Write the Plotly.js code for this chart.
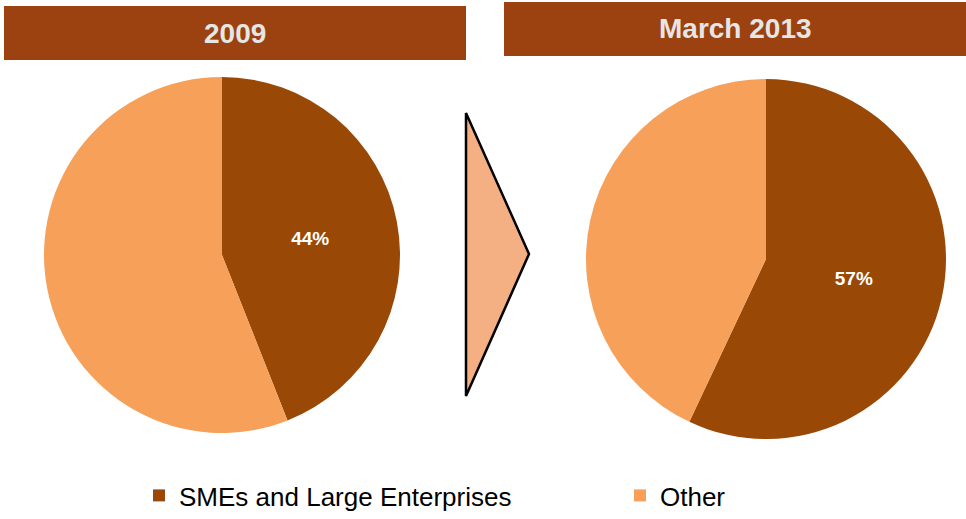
<!DOCTYPE html>
<html>
<head>
<meta charset="utf-8">
<script src="https://cdn.plot.ly/plotly-3.0.1.min.js"></script>
<style>html,body{margin:0;padding:0;background:#fff;}#chart{width:966px;height:519px;}</style>
</head>
<body>
<div id="chart"></div>
<script>
const categories = ["SMEs and Large Enterprises", "Other"];
const periods = ["2009", "March 2013"];
const values2009 = [44, 56];
const values2013 = [57, 43];
const textLabels2009 = ["44%", ""];
const textLabels2013 = ["57%", ""];

const brown = "#9A4806";
const orange = "#F6A05A";
const W = 966, H = 519;
const px = v => v / W;
const py = v => 1 - v / H;

const common = {
  type: "pie",
  labels: categories,
  sort: false,
  direction: "clockwise",
  rotation: 0,
  marker: {colors: [brown, orange], line: {width: 0}},
  textinfo: "text",
  textposition: "inside",
  insidetextorientation: "horizontal",
  textfont: {family: "Liberation Sans, Arial, sans-serif", size: 19, color: "#FFFFFF", weight: "bold"},
  hoverinfo: "label+percent"
};

const traces = [
  Object.assign({}, common, {
    name: periods[0], values: values2009, text: textLabels2009,
    domain: {x: [px(44), px(400)], y: [py(433), py(77)]}
  }),
  Object.assign({}, common, {
    name: periods[1], values: values2013, text: textLabels2013,
    showlegend: false,
    domain: {x: [px(586), px(946)], y: [py(439), py(79)]}
  })
];

const headerFont = {family: "Liberation Sans, Arial, sans-serif", size: 28, color: "#E6E6E6", weight: "bold"};

const layout = {
  width: W, height: H,
  margin: {l: 0, r: 0, t: 0, b: 0, autoexpand: false},
  paper_bgcolor: "#FFFFFF",
  showlegend: true,
  legend: {
    orientation: "h",
    x: px(139), xanchor: "left",
    y: 0, yanchor: "bottom",
    font: {family: "Liberation Sans, Arial, sans-serif", size: 26, color: "#000000"},
    entrywidthmode: "pixels",
    entrywidth: 436,
    itemwidth: 30,
    traceorder: "normal",
    bgcolor: "rgba(0,0,0,0)"
  },
  shapes: [
    {type: "rect", xref: "paper", yref: "paper", x0: px(4), x1: px(466), y0: py(60), y1: py(6),
     fillcolor: "#9C4110", line: {width: 0}, layer: "below"},
    {type: "rect", xref: "paper", yref: "paper", x0: px(504), x1: px(966), y0: py(56), y1: py(2),
     fillcolor: "#9C4110", line: {width: 0}, layer: "below"},
    {type: "path", xref: "paper", yref: "paper",
     path: `M ${px(466)} ${py(113)} L ${px(529)} ${py(254)} L ${px(466)} ${py(396)} Z`,
     fillcolor: "#F4AF82", line: {color: "#000000", width: 2.5}}
  ],
  annotations: [
    {text: periods[0], xref: "paper", yref: "paper", x: px(235), y: py(33), xanchor: "center", yanchor: "middle",
     showarrow: false, font: headerFont},
    {text: periods[1], xref: "paper", yref: "paper", x: px(735), y: py(29), xanchor: "center", yanchor: "middle",
     showarrow: false, font: headerFont}
  ]
};

Plotly.newPlot("chart", traces, layout, {displayModeBar: false, staticPlot: true});
</script>
</body>
</html>
